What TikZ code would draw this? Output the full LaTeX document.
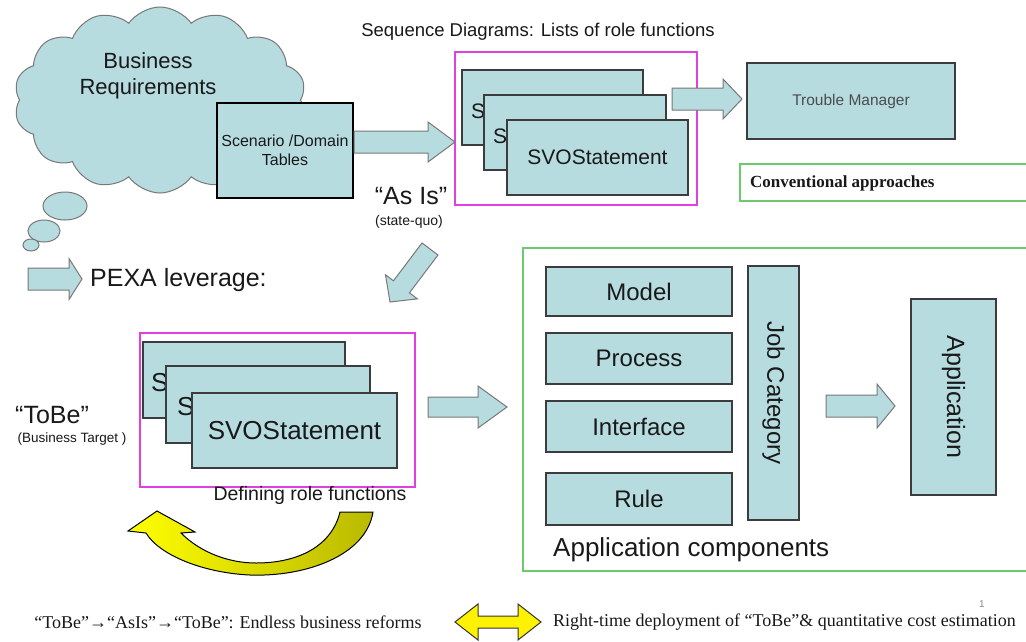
\documentclass[tikz,border=0pt]{standalone}
\usepackage{fontspec}
\setmainfont{Liberation Sans}
\newfontfamily\tnr{Liberation Serif}
\usetikzlibrary{shapes.symbols,calc}
\definecolor{boxfill}{RGB}{183,220,224}
\definecolor{boxline}{RGB}{60,60,60}
\definecolor{arrline}{RGB}{120,120,120}
\definecolor{magentaln}{RGB}{224,64,224}
\definecolor{greenln}{RGB}{110,200,110}
\definecolor{txt}{RGB}{25,25,25}
\definecolor{oliveyel}{RGB}{185,185,0}
\newcommand{\fs}[1]{\fontsize{#1}{#1}\selectfont}
\newcommand{\BArrow}[6][]{%
  \coordinate (ba-t) at #2;
  \coordinate (ba-p) at #3;
  \coordinate (ba-h) at ($(ba-p)!#6!(ba-t)$);
  \draw[blockarrow,#1] ($(ba-t)!#4!90:(ba-p)$) -- ($(ba-h)!#4!90:(ba-p)$) -- ($(ba-h)!#5!90:(ba-p)$)
    -- (ba-p) -- ($(ba-h)!#5!-90:(ba-p)$) -- ($(ba-h)!#4!-90:(ba-p)$) -- ($(ba-t)!#4!-90:(ba-p)$) -- cycle;}
\tikzset{
  bluebox/.style={draw=boxline, fill=boxfill, line width=1.2pt, inner sep=0pt, text=txt},
  blockarrow/.style={draw=arrline, fill=boxfill, line width=1pt, line join=miter},
  magframe/.style={draw=magentaln, line width=2.5pt},
  greenframe/.style={draw=greenln, line width=2pt},
  lbl/.style={text=txt, inner sep=0pt},
}
\begin{document}
\begin{tikzpicture}[x=1pt,y=-1pt]
\useasboundingbox (0,0) rectangle (1026,641);
\clip (0,0) rectangle (1026,641);
\fill[white] (0,0) rectangle (1026,641);

% cloud
\node[cloud, cloud puffs=14, cloud puff arc=110, cloud ignores aspect, draw=arrline, fill=boxfill,
      line width=1pt, minimum width=292pt, minimum height=186pt] (cloud) at (160,100) {};
\draw[draw=arrline, fill=boxfill, line width=1pt] (65,206) ellipse [x radius=22, y radius=14];
\draw[draw=arrline, fill=boxfill, line width=1pt] (44,231) ellipse [x radius=16, y radius=11];
\draw[draw=arrline, fill=boxfill, line width=1pt] (31,245) ellipse [x radius=8, y radius=6];
\node[lbl, font=\fs{22}, align=center] (bizreq) at (148,76) {Business\\[4pt]Requirements};

% scenario box
\node[bluebox, draw=black, line width=2.2pt, minimum width=136pt, minimum height=95pt,
      font=\fs{16}, align=center] (scen) at (285,150.5) {Scenario /Domain\\[3pt]Tables};

% top sequence group
\node[lbl, font=\fs{18.5}] (seqtitle) at (538,32) {Sequence Diagrams: Lists of role functions};
\draw[magframe] (455,52) rectangle (697,205);
\coordinate (magA) at (455,142);
\node[bluebox, minimum width=181pt, minimum height=75pt] (s1) at (552.5,107.5) {};
\node[lbl, font=\fs{21}, anchor=west] (s1t) at (471,111) {S};
\node[bluebox, minimum width=182pt, minimum height=75pt] (s2) at (575,132.5) {};
\node[lbl, font=\fs{21}, anchor=west] (s2t) at (493,136) {S};
\node[bluebox, minimum width=181pt, minimum height=75pt, font=\fs{21}] (s3) at (597.5,157.5) {SVOStatement};

\BArrow{($(scen.east)+(0,-8.5)$)}{(magA)}{11pt}{20pt}{27pt}

% trouble manager
\node[bluebox, minimum width=208pt, minimum height=76pt, font=\fs{15.5}, text=black!70] (tm) at (851,101) {Trouble Manager};
\coordinate (tmA) at (672,99);
\coordinate (tmB) at (742,99);
\BArrow{(tmA)}{(tmB)}{11pt}{20pt}{19pt}
\draw[greenframe] (740,164) rectangle (1040,201);
\node[lbl, font=\tnr\bfseries\fs{17}, anchor=west] (conv) at (750,183) {Conventional approaches};

% As Is
\node[lbl, font=\fs{25}] (asis) at (411,196) {“As Is”};
\node[lbl, font=\fs{14}] (stq) at (409,222) {(state-quo)};
\coordinate (dgT) at (430,249);
\coordinate (dgP) at (390,302);
\BArrow{(dgT)}{(dgP)}{10pt}{20pt}{19pt}

% PEXA
\coordinate (pxT) at (28,279);
\coordinate (pxP) at (82,279);
\BArrow{(pxT)}{(pxP)}{11pt}{20.5pt}{13pt}
\node[lbl, font=\fs{25}, anchor=west] (pexa) at (90,280) {PEXA leverage:};

% ToBe group
\node[lbl, font=\fs{25}] (tobe) at (52,415) {“ToBe”};
\node[lbl, font=\fs{13.5}] (btgt) at (72,439) {(Business Target )};
\draw[magframe] (140,333) rectangle (415,487);
\node[bluebox, minimum width=202pt, minimum height=76pt] (b1) at (244,380) {};
\node[lbl, font=\fs{26}, anchor=west] (b1t) at (151,383) {S};
\node[bluebox, minimum width=204pt, minimum height=77pt] (b2) at (268,404.5) {};
\node[lbl, font=\fs{26}, anchor=west] (b2t) at (177,407) {S};
\node[bluebox, minimum width=205pt, minimum height=75pt, font=\fs{26}] (b3) at (294.5,430.5) {SVOStatement};
\node[lbl, font=\fs{19.5}] (defrole) at (310,495) {Defining role functions};

\coordinate (rtT) at (428,407);
\coordinate (rtP) at (507,407);
\BArrow{(rtT)}{(rtP)}{10pt}{21pt}{29pt}

% curved yellow arrow
\draw[line width=1pt, draw=black, line join=miter, left color=yellow, right color=oliveyel]
  (373,512) .. controls (366,556) and (305,577) .. (250,575)
  .. controls (205,573) and (160,556) .. (146,533)
  -- (128,531) -- (157,511) -- (195,532) -- (181,533)
  .. controls (200,552) and (228,563) .. (256,563)
  .. controls (300,563) and (332,545) .. (340,512) -- cycle;

% application components
\draw[greenframe] (523,248) rectangle (1040,571);
\node[bluebox, minimum width=186pt, minimum height=49pt, font=\fs{24}] (model) at (639,291.5) {Model};
\node[bluebox, minimum width=186pt, minimum height=51pt, font=\fs{24}] (proc) at (639,358.5) {Process};
\node[bluebox, minimum width=186pt, minimum height=51pt, font=\fs{24}] (intf) at (639,426.5) {Interface};
\node[bluebox, minimum width=186pt, minimum height=52pt, font=\fs{24}] (rule) at (639,499) {Rule};
\node[bluebox, rotate=-90, minimum width=254pt, minimum height=51pt, font=\fs{24}] (job) at (773.5,393) {Job Category};
\node[bluebox, rotate=-90, minimum width=196pt, minimum height=85pt, font=\fs{25}] (app) at (953.5,397) {Application};
\coordinate (apT) at (826,406);
\coordinate (apP) at (895,406);
\BArrow{(apT)}{(apP)}{11pt}{22pt}{18pt}
\node[lbl, font=\fs{26}, anchor=west] (appc) at (553,550) {Application components};

% bottom line
\node[lbl, font=\tnr\fs{18}] (endless) at (228,622) {“ToBe”→“AsIs”→“ToBe”: Endless business reforms};
\draw[line width=1pt, draw=black!80, fill=yellow, line join=miter]
  (455,622) -- (478,604) -- (478,616) -- (518,616) -- (518,604) -- (541,622)
  -- (518,640) -- (518,628) -- (478,628) -- (478,640) -- cycle;
\node[lbl, font=\tnr\fs{18}, anchor=west] (rtd) at (553,622) {Right-time deployment of “ToBe”\& quantitative cost estimation};
\node[lbl, font=\fs{10}, text=black!45] (pg) at (982,604) {1};
\end{tikzpicture}
\end{document}
